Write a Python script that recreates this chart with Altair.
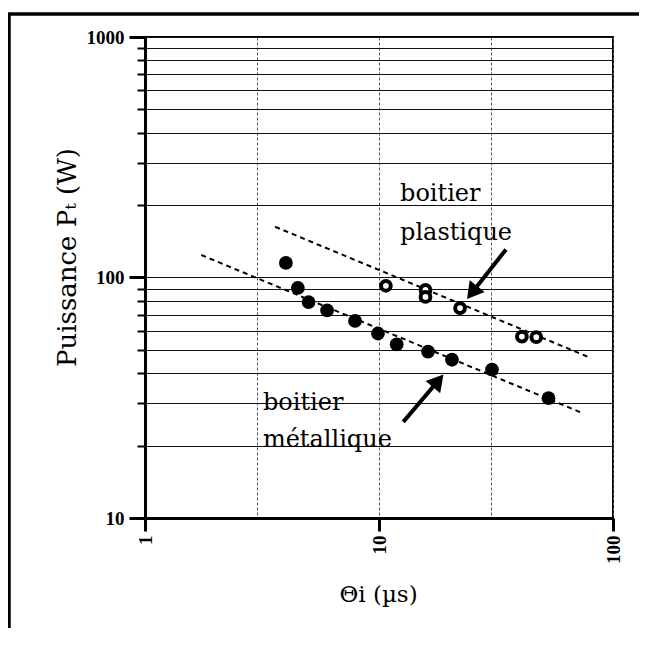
import altair as alt
import pandas as pd

# --- data ---
met_x = [4.0, 4.5, 5.0, 6.0, 7.9, 9.9, 11.9, 16.2, 20.5, 30.4, 53.0]
met_y = [115, 90.5, 79, 73, 66, 58.5, 52.7, 49.2, 45.5, 41.4, 31.5]

pla_x = [10.7, 15.8, 15.8, 22.2, 40.8, 47.0]
pla_y = [92.4, 88.8, 83.0, 74.6, 56.8, 56.5]

met_fit_x = [1.74, 74.8]
met_fit_y = [124, 27.2]
pla_fit_x = [3.6, 80.7]
pla_fit_y = [162.5, 46.2]

pla_label_x = [12.3, 12.3]
pla_label_y = [209, 142.6]
pla_label_t = ["boitier", "plastique"]
met_label_x = [3.19, 3.19]
met_label_y = [28.2, 19.8]
met_label_t = ["boitier", "métallique"]

pla_arrow_x = [34.9, 25.0]
pla_arrow_y = [130.8, 86.6]
met_arrow_x = [12.7, 17.9]
met_arrow_y = [25.1, 37.2]

x_ticks = [1, 3, 10, 30, 100]
x_major = [1, 10, 100]
y_ticks = [10, 20, 30, 40, 50, 60, 70, 80, 90, 100, 200, 300, 400, 500, 600, 700, 800, 900, 1000]
y_major = [10, 100, 1000]

# --- frames ---
met = pd.DataFrame({"x": met_x, "y": met_y})
pla = pd.DataFrame({"x": pla_x, "y": pla_y})
fits = pd.DataFrame({"x": met_fit_x + pla_fit_x, "y": met_fit_y + pla_fit_y,
                     "g": ["m", "m", "p", "p"]})
labels = pd.DataFrame({"x": pla_label_x + met_label_x, "y": pla_label_y + met_label_y,
                       "t": pla_label_t + met_label_t})
arrows = pd.DataFrame({"x": pla_arrow_x + met_arrow_x, "y": pla_arrow_y + met_arrow_y,
                       "g": ["p", "p", "m", "m"]})
pla_head = pd.DataFrame({"x": [pla_arrow_x[1]], "y": [pla_arrow_y[1]]})
met_head = pd.DataFrame({"x": [met_arrow_x[1]], "y": [met_arrow_y[1]]})
one = pd.DataFrame({"a": [0]})

xmaj = "indexof(" + str(x_major) + ", datum.value) >= 0"
ymaj = "indexof(" + str(y_major) + ", datum.value) >= 0"

xscale = alt.Scale(type="log", domain=[1, 100], nice=False)
yscale = alt.Scale(type="log", domain=[10, 1000], nice=False)

xaxis = alt.Axis(
    values=x_ticks, format="d",
    labelExpr=xmaj + " ? datum.label : ''",
    labelAngle=270, labelFont="Liberation Serif", labelFontWeight="bold",
    labelFontSize=19, labelColor="black", labelPadding=4, labelOverlap=False,
    tickSize={"condition": {"test": xmaj, "value": 13}, "value": 0},
    tickWidth=3, tickColor="black",
    domainColor="black", domainWidth=3,
    grid=True, gridColor="#555", gridDash=[3, 2], gridWidth=1,
    title="Θi (µs)", titleFont="DejaVu Serif", titleFontSize=23,
    titleFontWeight="normal", titleColor="black",
    titleX=233, titleY=76, titleAlign="center", titleBaseline="middle", titleAngle=0,
)
yaxis = alt.Axis(
    values=y_ticks, format="d",
    labelExpr=ymaj + " ? datum.label : ''",
    labelFont="Liberation Serif", labelFontWeight="bold",
    labelFontSize=19, labelColor="black", labelPadding=5, labelOverlap=False,
    tickSize={"condition": {"test": ymaj, "value": 16}, "value": 8},
    tickWidth={"condition": {"test": ymaj, "value": 3}, "value": 2},
    tickColor="black",
    domainColor="black", domainWidth=3,
    grid=True, gridColor="#111", gridWidth=1.2,
    title="Puissance Pₜ (W)", titleFont="DejaVu Serif", titleFontSize=26,
    titleFontWeight="normal", titleColor="black",
    titleX=-78, titleY=220, titleAlign="center", titleBaseline="middle", titleAngle=270,
)

X = alt.X("x:Q", scale=xscale, axis=xaxis)
Y = alt.Y("y:Q", scale=yscale, axis=yaxis)

frame_left = alt.Chart(one).mark_rule(color="black", strokeWidth=3.5).encode(
    x=alt.value(-136), y=alt.value(-23), y2=alt.value(700))
frame_top = alt.Chart(one).mark_rule(color="black", strokeWidth=3.5).encode(
    y=alt.value(-23), x=alt.value(-137.5), x2=alt.value(700))

fit_lines = alt.Chart(fits).mark_line(color="black", strokeWidth=2, strokeDash=[5, 4]).encode(
    x=X, y=Y, detail="g:N")

met_pts = alt.Chart(met).mark_circle(color="black", size=190, opacity=1).encode(x=X, y=Y)
pla_pts = alt.Chart(pla).mark_point(shape="circle", filled=True, fill="white", stroke="black",
                                    strokeWidth=4, size=95, opacity=1).encode(x=X, y=Y)

texts = alt.Chart(labels).mark_text(align="left", baseline="alphabetic", font="DejaVu Serif",
                                    fontSize=24, color="black").encode(x=X, y=Y, text="t:N")

arrow_lines = alt.Chart(arrows).mark_line(color="black", strokeWidth=4).encode(
    x=X, y=Y, detail="g:N")
pla_tip = alt.Chart(pla_head).mark_point(shape="triangle-up", filled=True, color="black",
                                         size=360, angle=218, opacity=1).encode(x=X, y=Y)
met_tip = alt.Chart(met_head).mark_point(shape="triangle-up", filled=True, color="black",
                                         size=360, angle=40, opacity=1).encode(x=X, y=Y)

chart = alt.layer(
    met_pts, fit_lines, pla_pts, texts, arrow_lines, pla_tip, met_tip, frame_left, frame_top
).properties(
    width=468, height=481,
    autosize=alt.AutoSizeParams(type="none"),
    padding={"left": 137, "top": 29, "right": 26, "bottom": 110},
    background="white",
).configure_view(stroke="black", strokeWidth=2)

chart.save("out.html", embed_options={"renderer": "svg", "actions": False})
